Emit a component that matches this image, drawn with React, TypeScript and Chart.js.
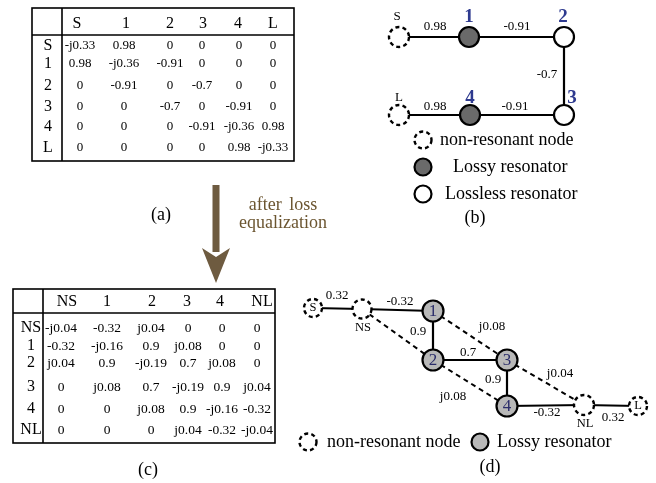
import React, { useEffect, useRef } from 'react';
import { Chart, registerables } from 'chart.js';

Chart.register(...registerables);

const FONT = '"Liberation Serif", "Times New Roman", serif';

// ---------- data ----------
const A_HEAD = ['S', '1', '2', '3', '4', 'L'];
const A_VALUES = [
  ['-j0.33', '0.98', '0', '0', '0', '0'],
  ['0.98', '-j0.36', '-0.91', '0', '0', '0'],
  ['0', '-0.91', '0', '-0.7', '0', '0'],
  ['0', '0', '-0.7', '0', '-0.91', '0'],
  ['0', '0', '0', '-0.91', '-j0.36', '0.98'],
  ['0', '0', '0', '0', '0.98', '-j0.33'],
];
const C_HEAD = ['NS', '1', '2', '3', '4', 'NL'];
const C_VALUES = [
  ['-j0.04', '-0.32', 'j0.04', '0', '0', '0'],
  ['-0.32', '-j0.16', '0.9', 'j0.08', '0', '0'],
  ['j0.04', '0.9', '-j0.19', '0.7', 'j0.08', '0'],
  ['0', 'j0.08', '0.7', '-j0.19', '0.9', 'j0.04'],
  ['0', '0', 'j0.08', '0.9', '-j0.16', '-0.32'],
  ['0', '0', '0', 'j0.04', '-0.32', '-j0.04'],
];

const B_NODES = ['S', '1', '2', '3', '4', 'L'];
const B_TYPES = ['open', 'lossy', 'lossless', 'lossless', 'lossy', 'open'];
const B_EDGES = [['S', '1'], ['1', '2'], ['2', '3'], ['3', '4'], ['4', 'L']];
const B_EDGE_LABELS = ['0.98', '-0.91', '-0.7', '-0.91', '0.98'];
const B_LEGEND = ['non-resonant node', 'Lossy resonator', 'Lossless resonator'];

const D_NODES = ['S', 'NS', '1', '2', '3', '4', 'NL', 'L'];
const D_TYPES = ['open', 'open', 'lossy', 'lossy', 'lossy', 'lossy', 'open', 'open'];
const D_SOLID = [['S', 'NS'], ['NS', '1'], ['1', '2'], ['2', '3'], ['3', '4'], ['4', 'NL'], ['NL', 'L']];
const D_SOLID_LABELS = ['0.32', '-0.32', '0.9', '0.7', '0.9', '-0.32', '0.32'];
const D_DASHED = [['NS', '2'], ['1', '3'], ['3', 'NL'], ['2', '4']];
const D_DASHED_LABELS = ['', 'j0.08', 'j0.04', 'j0.08'];
const D_LEGEND = ['non-resonant node', 'Lossy resonator'];

const PANEL_LABELS = ['(a)', '(b)', '(c)', '(d)'];
const ARROW_TEXT = ['after loss', 'equalization'];

// ---------- layout (positions / styles) ----------
const TABLE_A = {
  box: [32, 8, 294, 161], headY: 24, sepY: 35, sepX: 62,
  headX: [77, 126, 170, 203, 238, 273],
  valX: [80, 124, 170, 202, 239, 273],
  rowY: [46, 64, 86, 107, 127, 148], rowLabelX: 48,
  headSize: 16, rowSize: 16, valSize: 13,
};
const TABLE_C = {
  box: [13, 289, 275, 443], headY: 302, sepY: 313, sepX: 43,
  headX: [67, 107, 152, 187, 220, 262],
  valX: [61, 107, 151, 188, 222, 257],
  rowY: [328, 346, 363, 387, 409, 430], rowLabelX: 31,
  headSize: 16, rowSize: 16, valSize: 13.5,
};

const B_POS: Record<string, [number, number]> = {
  S: [399, 37], '1': [469, 37], '2': [564, 37], '3': [564, 115], '4': [470, 115], L: [399, 115],
};
const B_NAME_POS: Record<string, [number, number]> = {
  S: [397, 17], '1': [469, 17], '2': [563, 17], '3': [572, 98], '4': [470, 98], L: [399, 98],
};
const B_EDGE_LABEL_POS: [number, number][] = [[435, 27], [517, 27], [547, 75], [515, 107], [435, 107]];
const B_LEGEND_POS: [number, number, number][] = [[423, 140, 440], [423, 167, 453], [423, 194, 445]];

const D_POS: Record<string, [number, number]> = {
  S: [313, 308], NS: [362, 309], '1': [433, 311], '2': [433, 360], '3': [507, 360],
  '4': [507, 406], NL: [584, 405], L: [638, 406],
};
const D_R: Record<string, number> = { S: 9, NS: 9.5, '1': 10.5, '2': 10.5, '3': 10.5, '4': 10.5, NL: 10, L: 9 };
const D_SOLID_LABEL_POS: [number, number][] = [[337, 296], [400, 302], [418, 332], [468, 353], [493, 380], [547, 413], [613, 418]];
const D_DASHED_LABEL_POS: [number, number][] = [[0, 0], [492, 327], [560, 374], [453, 397]];
const D_LEGEND_POS: [number, number, number][] = [[308, 442, 327], [480, 442, 497]];
const PANEL_LABEL_POS: [number, number][] = [[161, 215], [475, 218], [148, 470], [490, 467]];

const LOSSY_B = '#6a6a6a';
const LOSSY_D = '#b8b8b8';
const ARROW_COLOR = '#6e5b40';
const ARROW_TEXT_COLOR = '#6b5530';
const BLUE_B = '#2e3a8f';
const BLUE_D = '#2a2c6a';

function drawTable(ctx: CanvasRenderingContext2D, X: (v: number) => number, Y: (v: number) => number, t: any, head: string[], vals: string[][]) {
  const [x0, y0, x1, y1] = t.box;
  ctx.save();
  ctx.strokeStyle = '#000';
  ctx.lineWidth = 1.6;
  ctx.strokeRect(X(x0), Y(y0), X(x1) - X(x0), Y(y1) - Y(y0));
  ctx.beginPath();
  ctx.moveTo(X(x0), Y(t.sepY));
  ctx.lineTo(X(x1), Y(t.sepY));
  ctx.moveTo(X(t.sepX), Y(y0));
  ctx.lineTo(X(t.sepX), Y(y1));
  ctx.stroke();
  ctx.fillStyle = '#000';
  ctx.textAlign = 'center';
  ctx.textBaseline = 'middle';
  ctx.font = `${t.headSize}px ${FONT}`;
  head.forEach((h, i) => ctx.fillText(h, X(t.headX[i]), Y(t.headY)));
  ctx.font = `${t.rowSize}px ${FONT}`;
  head.forEach((h, i) => ctx.fillText(h, X(t.rowLabelX), Y(t.rowY[i])));
  ctx.font = `${t.valSize}px ${FONT}`;
  vals.forEach((row, r) => row.forEach((v, c) => ctx.fillText(v, X(t.valX[c]), Y(t.rowY[r]))));
  ctx.restore();
}

function dashedCircle(ctx: CanvasRenderingContext2D, x: number, y: number, r: number) {
  ctx.save();
  ctx.beginPath();
  ctx.arc(x, y, r, 0, Math.PI * 2);
  ctx.fillStyle = '#fff';
  ctx.fill();
  ctx.setLineDash([4, 3.2]);
  ctx.lineWidth = 2.4;
  ctx.strokeStyle = '#000';
  ctx.stroke();
  ctx.restore();
}

function solidCircle(ctx: CanvasRenderingContext2D, x: number, y: number, r: number, fill: string) {
  ctx.save();
  ctx.beginPath();
  ctx.arc(x, y, r, 0, Math.PI * 2);
  ctx.fillStyle = fill;
  ctx.fill();
  ctx.lineWidth = 2.2;
  ctx.strokeStyle = '#000';
  ctx.stroke();
  ctx.restore();
}

const diagramPlugin = {
  id: 'diagram',
  beforeDatasetsDraw(chart: any) {
    const ctx: CanvasRenderingContext2D = chart.ctx;
    const X = (v: number) => chart.scales.x.getPixelForValue(v);
    const Y = (v: number) => chart.scales.y.getPixelForValue(v);
    ctx.save();
    ctx.fillStyle = '#fff';
    ctx.fillRect(0, 0, chart.width, chart.height);
    ctx.restore();
    drawTable(ctx, X, Y, TABLE_A, A_HEAD, A_VALUES);
    drawTable(ctx, X, Y, TABLE_C, C_HEAD, C_VALUES);

    // arrow
    ctx.save();
    ctx.fillStyle = ARROW_COLOR;
    ctx.fillRect(X(212.5), Y(185), X(219.5) - X(212.5), Y(252) - Y(185));
    ctx.beginPath();
    ctx.moveTo(X(202), Y(248));
    ctx.lineTo(X(216), Y(257));
    ctx.lineTo(X(230), Y(248));
    ctx.lineTo(X(216), Y(283));
    ctx.closePath();
    ctx.fill();
    ctx.fillStyle = ARROW_TEXT_COLOR;
    ctx.font = `18px ${FONT}`;
    ctx.textAlign = 'center';
    ctx.textBaseline = 'middle';
    (ctx as any).wordSpacing = '3px';
    ctx.fillText(ARROW_TEXT[0], X(283), Y(205));
    ctx.fillText(ARROW_TEXT[1], X(283), Y(223));
    ctx.restore();
  },
  afterDatasetsDraw(chart: any) {
    const ctx: CanvasRenderingContext2D = chart.ctx;
    const X = (v: number) => chart.scales.x.getPixelForValue(v);
    const Y = (v: number) => chart.scales.y.getPixelForValue(v);
    ctx.save();
    ctx.textAlign = 'center';
    ctx.textBaseline = 'middle';
    ctx.fillStyle = '#000';

    // ---- panel (b) ----
    B_NODES.forEach((n, i) => {
      const [x, y] = B_POS[n];
      if (B_TYPES[i] === 'open') dashedCircle(ctx, X(x), Y(y), 10);
      else solidCircle(ctx, X(x), Y(y), 10, B_TYPES[i] === 'lossy' ? LOSSY_B : '#fff');
    });
    B_NODES.forEach((n, i) => {
      const [x, y] = B_NAME_POS[n];
      if (B_TYPES[i] === 'open') {
        ctx.fillStyle = '#000';
        ctx.font = `13px ${FONT}`;
      } else {
        ctx.fillStyle = BLUE_B;
        ctx.font = `bold 19px ${FONT}`;
      }
      ctx.fillText(n, X(x), Y(y));
    });
    ctx.fillStyle = '#000';
    ctx.font = `13px ${FONT}`;
    B_EDGE_LABELS.forEach((l, i) => ctx.fillText(l, X(B_EDGE_LABEL_POS[i][0]), Y(B_EDGE_LABEL_POS[i][1])));
    // legend b
    B_LEGEND.forEach((l, i) => {
      const [cx, cy, tx] = B_LEGEND_POS[i];
      if (i === 0) dashedCircle(ctx, X(cx), Y(cy), 8.5);
      else solidCircle(ctx, X(cx), Y(cy), 8.5, i === 1 ? LOSSY_B : '#fff');
      ctx.fillStyle = '#000';
      ctx.font = `18px ${FONT}`;
      ctx.textAlign = 'left';
      ctx.fillText(l, X(tx), Y(cy));
      ctx.textAlign = 'center';
    });

    // ---- panel (d) ----
    D_NODES.forEach((n, i) => {
      const [x, y] = D_POS[n];
      if (D_TYPES[i] === 'open') dashedCircle(ctx, X(x), Y(y), D_R[n]);
      else solidCircle(ctx, X(x), Y(y), D_R[n], LOSSY_D);
    });
    D_NODES.forEach((n, i) => {
      const [x, y] = D_POS[n];
      if (D_TYPES[i] === 'lossy') {
        ctx.fillStyle = BLUE_D;
        ctx.font = `17px ${FONT}`;
        ctx.fillText(n, X(x), Y(y + 1));
      } else if (n === 'S' || n === 'L') {
        ctx.fillStyle = '#000';
        ctx.font = `12.5px ${FONT}`;
        ctx.fillText(n, X(x), Y(y));
      } else {
        ctx.fillStyle = '#000';
        ctx.font = `12.5px ${FONT}`;
        ctx.fillText(n, X(x + 1), Y(y + 19));
      }
    });
    ctx.fillStyle = '#000';
    ctx.font = `13px ${FONT}`;
    D_SOLID_LABELS.forEach((l, i) => ctx.fillText(l, X(D_SOLID_LABEL_POS[i][0]), Y(D_SOLID_LABEL_POS[i][1])));
    D_DASHED_LABELS.forEach((l, i) => { if (l) ctx.fillText(l, X(D_DASHED_LABEL_POS[i][0]), Y(D_DASHED_LABEL_POS[i][1])); });
    D_LEGEND.forEach((l, i) => {
      const [cx, cy, tx] = D_LEGEND_POS[i];
      if (i === 0) dashedCircle(ctx, X(cx), Y(cy), 8.5);
      else solidCircle(ctx, X(cx), Y(cy), 8.5, LOSSY_D);
      ctx.fillStyle = '#000';
      ctx.font = `18px ${FONT}`;
      ctx.textAlign = 'left';
      ctx.fillText(l, X(tx), Y(cy));
      ctx.textAlign = 'center';
    });

    // panel labels
    ctx.fillStyle = '#000';
    ctx.font = `18px ${FONT}`;
    PANEL_LABELS.forEach((l, i) => ctx.fillText(l, X(PANEL_LABEL_POS[i][0]), Y(PANEL_LABEL_POS[i][1])));
    ctx.restore();
  },
};

export default function App() {
  const ref = useRef<HTMLCanvasElement>(null);
  useEffect(() => {
    document.body.style.margin = '0';
    const canvas = ref.current!;
    const edgeSets: any[] = [];
    B_EDGES.forEach(([a, b]) => {
      edgeSets.push({
        data: [{ x: B_POS[a][0], y: B_POS[a][1] }, { x: B_POS[b][0], y: B_POS[b][1] }],
        showLine: true, borderColor: '#000', borderWidth: 2.2, pointRadius: 0,
      });
    });
    D_SOLID.forEach(([a, b]) => {
      edgeSets.push({
        data: [{ x: D_POS[a][0], y: D_POS[a][1] }, { x: D_POS[b][0], y: D_POS[b][1] }],
        showLine: true, borderColor: '#000', borderWidth: 2.2, pointRadius: 0,
      });
    });
    D_DASHED.forEach(([a, b]) => {
      edgeSets.push({
        data: [{ x: D_POS[a][0], y: D_POS[a][1] }, { x: D_POS[b][0], y: D_POS[b][1] }],
        showLine: true, borderColor: '#000', borderWidth: 2, borderDash: [5, 4], pointRadius: 0,
      });
    });
    const chart = new Chart(canvas, {
      type: 'scatter',
      data: { datasets: edgeSets },
      options: {
        animation: false,
        responsive: false,
        maintainAspectRatio: false,
        devicePixelRatio: 1,
        events: [],
        layout: { padding: 0 },
        plugins: { legend: { display: false }, tooltip: { enabled: false } },
        scales: {
          x: { type: 'linear', min: 0, max: 656, display: false },
          y: { type: 'linear', min: 0, max: 483, reverse: true, display: false },
        },
      },
      plugins: [diagramPlugin],
    });
    return () => chart.destroy();
  }, []);
  return (
    <div style={{ width: 656, height: 483, background: '#fff' }}>
      <canvas ref={ref} width={656} height={483} style={{ display: 'block' }} />
    </div>
  );
}
